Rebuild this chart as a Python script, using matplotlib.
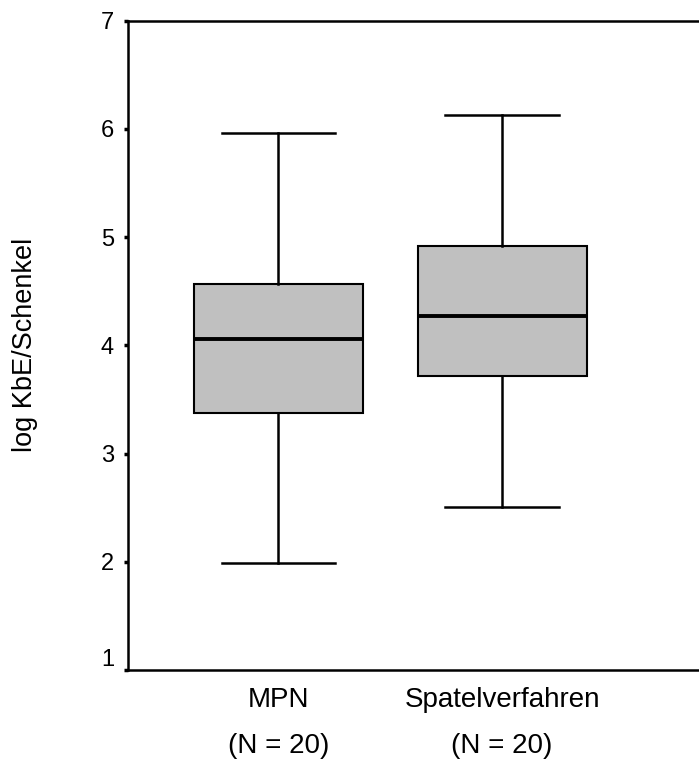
import matplotlib.pyplot as plt
import matplotlib.transforms as mtransforms

groups = ["MPN", "Spatelverfahren"]
counts = [20, 20]
whislo = [1.99, 2.51]
q1 = [3.37, 3.72]
med = [4.06, 4.27]
q3 = [4.57, 4.92]
whishi = [5.96, 6.13]
yticks = [1, 2, 3, 4, 5, 6, 7]

plt.rcParams['font.family'] = ['Liberation Sans', 'DejaVu Sans']

fig = plt.figure(figsize=(6.99, 7.65), dpi=100)
ax = fig.add_axes([128 / 699, 1 - 670 / 765, 1 - 128 / 699, 649.5 / 765])

stats = []
for i in range(len(groups)):
    stats.append({"whislo": whislo[i], "q1": q1[i], "med": med[i],
                  "q3": q3[i], "whishi": whishi[i], "fliers": []})

ax.bxp(stats, positions=[1, 2], widths=0.756, capwidths=0.506,
       patch_artist=True, showfliers=False,
       boxprops=dict(facecolor="#c0c0c0", edgecolor="black", linewidth=1.5),
       medianprops=dict(color="black", linewidth=2.8),
       whiskerprops=dict(color="black", linewidth=1.8),
       capprops=dict(color="black", linewidth=1.8))

ax.set_xlim(0.327, 2.881)
ax.set_ylim(1, 7)
ax.set_yticks(yticks)
ax.set_yticklabels([str(t) for t in yticks], fontsize=17)
ax.set_xticks([1, 2])
ax.set_xticklabels([f"{g}\n(N = {n})" for g, n in zip(groups, counts)],
                   fontsize=20, linespacing=2.0)

ax.spines["right"].set_visible(False)
for s in ["left", "top", "bottom"]:
    ax.spines[s].set_linewidth(1.8)
ax.tick_params(axis="y", length=3, width=2.5, pad=7)
ax.tick_params(axis="x", length=0, pad=12)

# the "1" label sits a little above its tick in the original
lab = ax.get_yticklabels()[0]
lab.set_transform(lab.get_transform() + mtransforms.ScaledTranslation(0, 12 / 100, fig.dpi_scale_trans))

ax.set_ylabel("log KbE/Schenkel", fontsize=19.5)
ax.yaxis.set_label_coords(-0.157, 0.5)

fig.savefig("out.png", dpi=100)
